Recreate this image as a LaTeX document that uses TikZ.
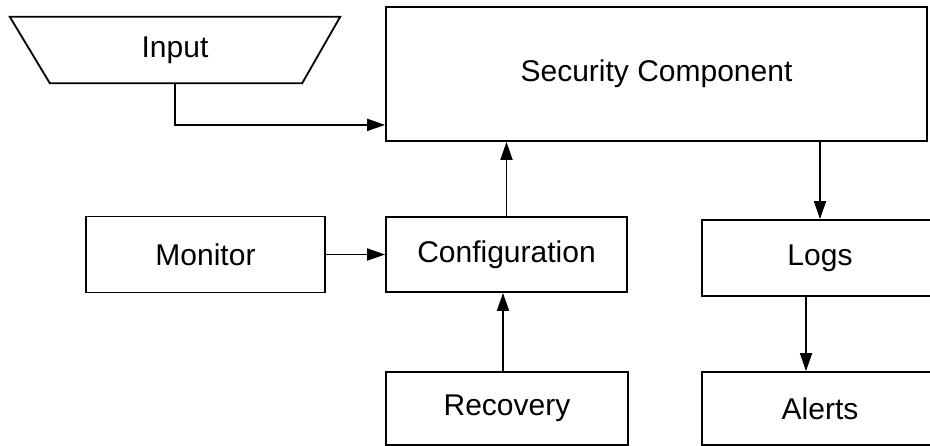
\documentclass[tikz,border=0pt]{standalone}
\usepackage{fontspec}
\setmainfont{Liberation Sans}
\usetikzlibrary{arrows.meta}
\begin{document}
\begin{tikzpicture}[x=1pt,y=-1pt,
  txt/.style={inner sep=0pt,font=\fontsize{30}{36}\selectfont},
  box/.style={txt,draw,line width=1.8pt},
  arr/.style={line width=1.8pt,-{Triangle[length=18pt,width=12pt]}}]
\useasboundingbox (0,0) rectangle (930,446);
\clip (0,0) rectangle (930,446);
\node[txt,minimum width=330pt,minimum height=66pt] (inp) at (175,50) {Input};
\draw[line width=1.8pt,line join=miter] (inp.north west) -- (inp.north east)
  -- ([xshift=-38pt]inp.south east) -- ([xshift=40pt]inp.south west) -- cycle;
\node[box,minimum width=541pt,minimum height=134pt] (sec) at (656.5,74) {Security Component};
\node[box,minimum width=239pt,minimum height=76pt] (mon) at (205.5,254.5) {Monitor};
\node[box,minimum width=241pt,minimum height=75pt] (cfg) at (506.5,254.5) {Configuration};
\node[box,minimum width=236pt,minimum height=76pt] (logs) at (820,258) {Logs};
\node[box,minimum width=242pt,minimum height=73pt] (rec) at (507,408.5) {Recovery};
\node[box,minimum width=236pt,minimum height=73pt] (alr) at (820,408.5) {Alerts};
\draw[arr] (inp.south) |- ([yshift=17pt]sec.south west);
\draw[arr] (cfg.north) -- (cfg.north |- sec.south);
\draw[arr] (mon.east) -- (cfg.west);
\draw[arr] ([xshift=-4pt]rec.north) -- ([xshift=-4pt]rec.north |- cfg.south);
\draw[arr] (logs.north |- sec.south) -- (logs.north);
\draw[arr] ([xshift=-14pt]logs.south) -- ([xshift=-14pt]alr.north);
\end{tikzpicture}
\end{document}
